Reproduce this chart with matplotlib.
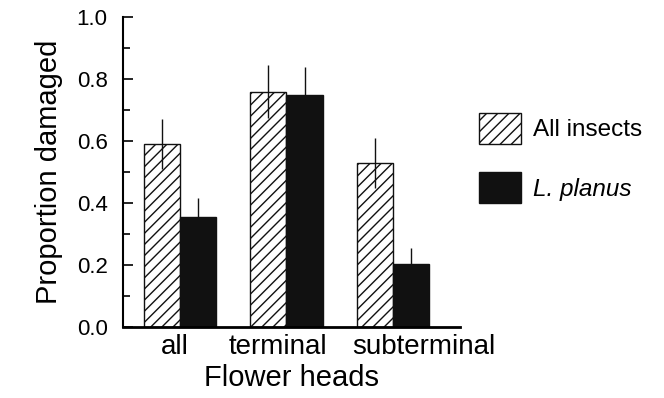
import matplotlib
matplotlib.use("Agg")
import matplotlib.pyplot as plt
import matplotlib.transforms as mtransforms
import numpy as np
from matplotlib.ticker import MultipleLocator, FormatStrFormatter

plt.rcParams["font.family"] = ["Liberation Sans", "DejaVu Sans"]
plt.rcParams["hatch.linewidth"] = 1.0

categories = ["all", "terminal", "subterminal"]
all_insects = [0.59, 0.76, 0.53]
all_insects_err = [0.08, 0.085, 0.08]
planus = [0.355, 0.75, 0.205]
planus_err = [0.06, 0.09, 0.05]
series_labels = ["All insects", "L. planus"]

fig = plt.figure(figsize=(6.64, 3.98), dpi=100)
ax = fig.add_axes([0.185, 0.178, 0.508, 0.779])

x = np.arange(len(categories))
w = 0.34
ax.bar(x - w / 2, all_insects, w, color="white", edgecolor="#111111",
       hatch="///", linewidth=1.0, label=series_labels[0])
ax.bar(x + w / 2, planus, w, color="#111111", edgecolor="#111111",
       linewidth=1.0, label=series_labels[1])
ax.errorbar(x - w / 2, all_insects, yerr=all_insects_err, fmt="none",
            ecolor="#111111", elinewidth=1.0, capsize=0)
ax.errorbar(x + w / 2, planus, yerr=planus_err, fmt="none",
            ecolor="#111111", elinewidth=1.0, capsize=0)

ax.set_xlim(-0.535, 2.63)
ax.set_ylim(0, 1.0)
ax.set_xticks(x)
ax.set_xticklabels(categories)
ax.yaxis.set_major_locator(MultipleLocator(0.2))
ax.yaxis.set_minor_locator(MultipleLocator(0.1))
ax.yaxis.set_major_formatter(FormatStrFormatter("%.1f"))
ax.tick_params(axis="y", which="major", direction="in", length=7, width=1.2,
               labelsize=16, pad=11)
ax.tick_params(axis="y", which="minor", direction="in", length=5, width=1.2)
ax.tick_params(axis="x", length=0, labelsize=20, pad=5)

# the original labels sit slightly off the group centres
label_shift_px = [-5, -8, 31]
for lab, dx in zip(ax.get_xticklabels(), label_shift_px):
    lab.set_transform(lab.get_transform() +
                      mtransforms.ScaledTranslation(dx / 100, 0, fig.dpi_scale_trans))

for s in ["top", "right"]:
    ax.spines[s].set_visible(False)
ax.spines["left"].set_linewidth(1.5)
ax.spines["bottom"].set_linewidth(2)
ax.set_ylabel("Proportion damaged", fontsize=21, labelpad=10)
ax.set_xlabel("Flower heads", fontsize=21, labelpad=3)

leg = fig.legend(loc="center left", bbox_to_anchor=(0.688, 0.603), frameon=False,
                 fontsize=17.5, handlelength=1.75, handleheight=1.6,
                 labelspacing=1.15, handletextpad=0.5)
leg.get_texts()[1].set_style("italic")

fig.savefig("out.png", dpi=100)
